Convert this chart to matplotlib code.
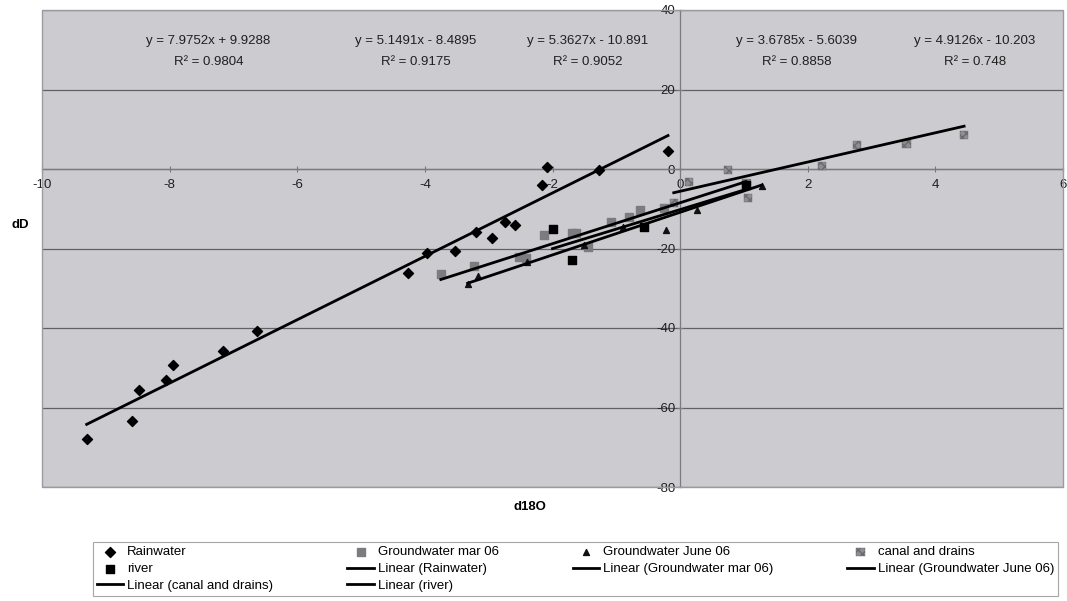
import matplotlib
matplotlib.use("Agg")
import matplotlib.pyplot as plt
import numpy as np
from matplotlib.patches import Rectangle

plt.rcParams['font.family'] = ['Liberation Sans', 'DejaVu Sans']
plt.rcParams['axes.unicode_minus'] = False

# data (d18O, dD)
rain_x = [-9.30, -8.59, -8.48, -8.05, -7.94, -7.17, -6.63, -4.27, -3.97, -3.53,
          -3.20, -2.95, -2.75, -2.59, -2.16, -2.08, -1.27, -0.19]
rain_y = [-67.8, -63.5, -55.7, -53.1, -49.4, -45.8, -40.8, -26.2, -21.2, -20.7,
          -15.9, -17.4, -13.3, -14.1, -4.0, 0.5, -0.2, 4.5]

gwmar_x = [-3.75, -3.23, -2.52, -2.41, -2.14, -1.69, -1.63, -1.44, -1.09, -0.80,
           -0.63, -0.25, 1.03]
gwmar_y = [-26.4, -24.4, -22.2, -22.4, -16.6, -16.1, -16.1, -19.6, -13.3, -12.1,
           -10.3, -9.8, -3.5]

gwjun_x = [-3.33, -3.16, -2.40, -1.50, -0.90, -0.22, 0.27, 1.28]
gwjun_y = [-29.0, -27.0, -23.5, -19.2, -14.5, -15.4, -10.3, -4.3]

canal_x = [-0.10, 0.14, 0.75, 1.06, 2.22, 2.77, 3.55, 4.45]
canal_y = [-8.6, -3.3, -0.3, -7.3, 0.8, 6.0, 6.3, 8.6]

river_x = [-2.00, -1.70, -0.57, 1.03]
river_y = [-15.1, -22.9, -14.6, -3.9]

# trendline coefficients as printed on the chart
slopes = [7.9752, 5.1491, 5.3627, 3.6785, 4.9126]
intercepts = [9.9288, -8.4895, -10.891, -5.6039, -10.203]
r2 = ['0.9804', '0.9175', '0.9052', '0.8858', '0.748']
eq_text = ['y = 7.9752x + 9.9288', 'y = 5.1491x - 8.4895', 'y = 5.3627x - 10.891',
           'y = 3.6785x - 5.6039', 'y = 4.9126x - 10.203']
eq_pos = [-7.39, -4.14, -1.45, 1.83, 4.62]

names = ['Rainwater', 'Groundwater mar 06', 'Groundwater June 06', 'canal and drains', 'river']

fig = plt.figure(figsize=(10.67, 6.01), dpi=100, facecolor='white')
ax = fig.add_axes([42/1067, 1-487/601, (1063-42)/1067, (487-10)/601])
ax.set_facecolor('#cbcbd0')

ax.set_xlim(-10, 6)
ax.set_ylim(-80, 40)

# gridlines
ax.set_yticks(np.arange(-80, 41, 20))
ax.set_xticks(np.arange(-10, 7, 2))
ax.yaxis.grid(True, color='#5f6068', linewidth=0.9)
ax.set_axisbelow(True)

# axes crossing at zero like excel
ax.spines['left'].set_position(('data', 0))
ax.spines['bottom'].set_position(('data', 0))
ax.spines['top'].set_visible(False)
ax.spines['right'].set_visible(False)
for s in ['left', 'bottom']:
    ax.spines[s].set_color('#7a7a80')
    ax.spines[s].set_linewidth(0.9)
ax.tick_params(direction='inout', length=5, width=0.8, color='#7a7a80',
               labelsize=9.5, labelcolor='#202020')
ax.tick_params(axis='x', pad=5)
ax.tick_params(axis='y', pad=1)

ax.add_patch(Rectangle((0, 0), 1, 1, transform=ax.transAxes, fill=False,
                       edgecolor='#9a9aa0', linewidth=1, clip_on=False, zorder=5))

xs = [rain_x, gwmar_x, gwjun_x, canal_x, river_x]
ys = [rain_y, gwmar_y, gwjun_y, canal_y, river_y]

h_rain = ax.scatter(rain_x, rain_y, marker='D', s=26, color='black', zorder=3)
h_mar = ax.scatter(gwmar_x, gwmar_y, marker='s', s=36, color='#7c7c80', zorder=3)
h_jun = ax.scatter(gwjun_x, gwjun_y, marker='^', s=18, color='#111111', zorder=3)
h_can = ax.scatter(canal_x, canal_y, marker='s', s=36, color='#8e8e92',
                   hatch='xxxx', edgecolor='#6a6a6e', linewidth=0.3, zorder=3)
h_riv = ax.scatter(river_x, river_y, marker='s', s=40, color='black', zorder=3)

line_h = []
for i in range(5):
    lx = np.array([min(xs[i]), max(xs[i])])
    ln, = ax.plot(lx, slopes[i]*lx + intercepts[i], color='black', lw=2, zorder=4)
    line_h.append(ln)
    ax.text(eq_pos[i], 32.2, eq_text[i], ha='center', va='center', fontsize=9.5, color='#202020')
    ax.text(eq_pos[i], 27.0, 'R² = ' + r2[i], ha='center', va='center', fontsize=9.5, color='#202020')

fig.text(20/1067, 1-225/601, 'dD', fontsize=9.5, fontweight='bold', ha='center', va='center')
fig.text(530/1067, 1-507/601, 'd18O', fontsize=9.5, fontweight='bold', ha='center', va='center')

handles = [h_rain, h_riv, line_h[3], h_mar, line_h[0], line_h[4], h_jun, line_h[1], h_can, line_h[2]]
labels = [names[0], names[4], 'Linear (canal and drains)', names[1], 'Linear (Rainwater)',
          'Linear (river)', names[2], 'Linear (Groundwater mar 06)', names[3],
          'Linear (Groundwater June 06)']
leg = fig.legend(handles, labels, ncol=4, loc='lower left',
                 bbox_to_anchor=(93/1067, 5/601, (1058-93)/1067, 50/601), mode='expand',
                 fontsize=9.5, frameon=True, fancybox=False, edgecolor='#909090',
                 borderpad=0.3, labelspacing=0.35, handlelength=2.0, handletextpad=0.3,
                 borderaxespad=0)
leg.get_frame().set_linewidth(0.8)

fig.savefig('out.png', dpi=100)
